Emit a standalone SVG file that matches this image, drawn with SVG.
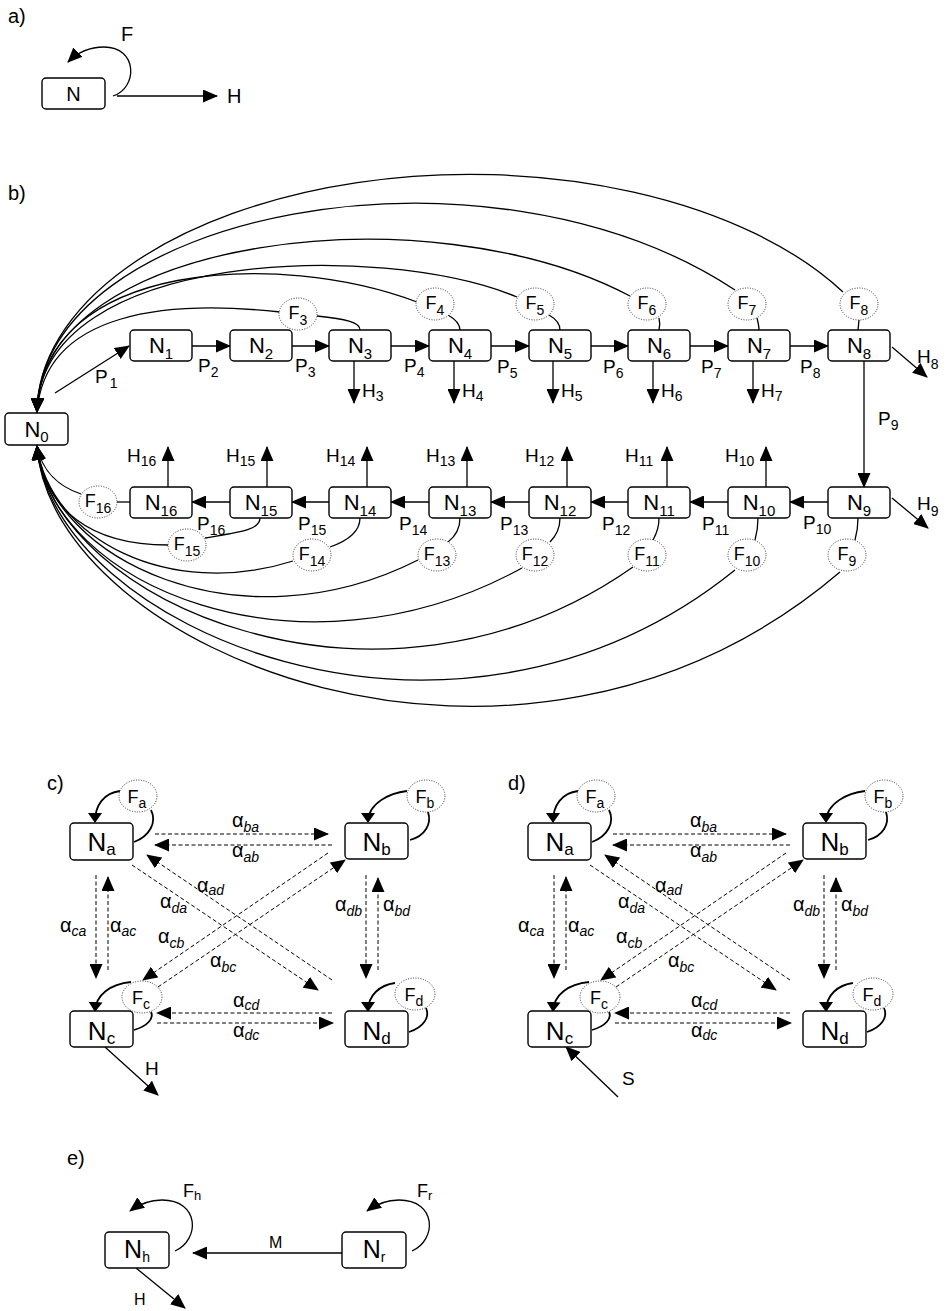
<svg xmlns="http://www.w3.org/2000/svg" width="947" height="1311" viewBox="0 0 947 1311">
<defs>
<style>
text{font-family:"Liberation Sans",Arial,Helvetica,sans-serif;fill:#000}
.bx{fill:#fff;stroke:#000;stroke-width:1.4}
.fc{fill:#fff;stroke:#333;stroke-width:1;stroke-dasharray:1 1.5}
.ln{fill:none;stroke:#000;stroke-width:1.3}
.ar{marker-end:url(#ah)}
.dl{fill:none;stroke:#000;stroke-width:1;stroke-dasharray:4 2.5;marker-end:url(#ah)}
.lp{fill:none;stroke:#000;stroke-width:1.8}
.la{marker-end:url(#as)}
.t20{font-size:20px}
.t19{font-size:19px}
.nb{font-size:22px}
.fb{font-size:18px}
.nc{font-size:26px}
.al{font-size:20px}
.s13{font-size:13px}
.s14{font-size:14px}
.s15{font-size:15px}
.s17{font-size:17px}
.it{font-style:italic;font-size:14px}
</style>
<marker id="ah" viewBox="0 0 15 13" refX="14" refY="6.5" markerWidth="15" markerHeight="13" orient="auto" markerUnits="userSpaceOnUse"><path d="M0,0 L15,6.5 L0,13 z" fill="#000"/></marker>
<marker id="as" viewBox="0 0 10 14" refX="9" refY="7" markerWidth="10" markerHeight="14" orient="auto" markerUnits="userSpaceOnUse"><path d="M0,0 L10,7 L0,14 z" fill="#000"/></marker>
</defs>
<rect width="947" height="1311" fill="#fff"/>

<!-- ===== a) ===== -->
<text x="8" y="23" class="t20">a)</text>
<g id="a-connectors">
<path class="ln ar" d="M113 96 C138 88 138 47 104 47 C88 47 76 54 68 62"/>
<path class="ln ar" d="M117 96 L217 96"/>
<text x="121" y="41" class="t20">F</text>
<text x="227" y="103" class="t20">H</text>
</g>
<g id="a-N"><rect class="bx" x="42" y="78" width="63" height="31" rx="4"/><text x="73.5" y="101" class="t20" text-anchor="middle">N</text></g>

<!-- ===== b) ===== -->
<text x="8" y="200" class="t20">b)</text>
<g id="b-connectors">
<!-- top return arcs -->
<path class="ln ar" d="M843 292 A433 239 0 0 0 37 412"/>
<path class="ln ar" d="M735 290 C485 125 40 212 37 412"/>
<path class="ln ar" d="M630 296 C430 190 40 235 37 412"/>
<path class="ln ar" d="M517 297 C380 240 40 250 37 412"/>
<path class="ln ar" d="M417 302 C280 250 42 260 37 412"/>
<path class="ln ar" d="M280 312 C170 300 45 310 37 412"/>
<!-- bottom return arcs -->
<path class="ln ar" d="M840 572 C520 845 50 650 37 446"/>
<path class="ln ar" d="M735 570 C450 800 50 625 37 446"/>
<path class="ln ar" d="M633 567 C380 745 50 600 37 446"/>
<path class="ln ar" d="M522 568 C300 690 50 585 37 446"/>
<path class="ln ar" d="M418 560 C240 650 50 560 37 446"/>
<path class="ln ar" d="M293 561 C170 600 50 540 37 446"/>
<path class="ln ar" d="M168 545 C90 545 45 510 37 446"/>
<path class="ln ar" d="M81 494 C60 487 42 472 37 446"/>
<!-- node to F links -->
<path class="ln" d="M317 316 C345 319 360 322 360 330"/>
<path class="ln" d="M448 315 C455 319 460 324 460 330"/>
<path class="ln" d="M549 315 C556 319 560 324 560 330"/>
<path class="ln" d="M659 318 C660 322 660 326 659 330"/>
<path class="ln" d="M757 318 C758 322 759 326 759 330"/>
<path class="ln" d="M859 320 L858 330"/>
<path class="ln" d="M855 540 C857 533 858 526 858 518"/>
<path class="ln" d="M755 540 C757 533 758 526 758 518"/>
<path class="ln" d="M653 540 C657 533 659 526 659 518"/>
<path class="ln" d="M550 542 C557 535 560 527 560 518"/>
<path class="ln" d="M448 542 C457 535 460 527 460 518"/>
<path class="ln" d="M330 547 C350 540 360 530 360 518"/>
<path class="ln" d="M205 538 C240 532 260 530 260 518"/>
<path class="ln" d="M117 502 L130 502"/>
<!-- flow arrows -->
<path class="ln ar" d="M55 393 L129 346"/>
<path class="ln ar" d="M192 346 L230 346"/>
<path class="ln ar" d="M292 346 L329 346"/>
<path class="ln ar" d="M391 346 L429 346"/>
<path class="ln ar" d="M491 346 L529 346"/>
<path class="ln ar" d="M591 346 L628 346"/>
<path class="ln ar" d="M690 346 L728 346"/>
<path class="ln ar" d="M790 346 L828 346"/>
<path class="ln ar" d="M864 361 L864 487"/>
<path class="ln ar" d="M828 502 L790 502"/>
<path class="ln ar" d="M728 502 L690 502"/>
<path class="ln ar" d="M628 502 L591 502"/>
<path class="ln ar" d="M529 502 L491 502"/>
<path class="ln ar" d="M429 502 L391 502"/>
<path class="ln ar" d="M329 502 L292 502"/>
<path class="ln ar" d="M230 502 L192 502"/>
<!-- harvest arrows -->
<path class="ln ar" d="M354 361 L354 403"/>
<path class="ln ar" d="M454 361 L454 403"/>
<path class="ln ar" d="M553 361 L553 403"/>
<path class="ln ar" d="M653 361 L653 403"/>
<path class="ln ar" d="M753 361 L753 403"/>
<path class="ln ar" d="M892 347 L927 377"/>
<path class="ln ar" d="M892 498 L928 528"/>
<path class="ln ar" d="M766 487 L766 447"/>
<path class="ln ar" d="M667 487 L667 447"/>
<path class="ln ar" d="M567 487 L567 447"/>
<path class="ln ar" d="M467 487 L467 447"/>
<path class="ln ar" d="M367 487 L367 447"/>
<path class="ln ar" d="M267 487 L267 447"/>
<path class="ln ar" d="M168 487 L168 447"/>
<!-- P labels -->
<g class="t19">
<text x="95" y="383">P<tspan class="s14" dx="2" dy="5">1</tspan></text>
<text x="198" y="372">P<tspan class="s14" dy="5">2</tspan></text>
<text x="295" y="372">P<tspan class="s14" dy="5">3</tspan></text>
<text x="404" y="372">P<tspan class="s14" dy="5">4</tspan></text>
<text x="497" y="373">P<tspan class="s14" dy="5">5</tspan></text>
<text x="603" y="373">P<tspan class="s14" dy="5">6</tspan></text>
<text x="701" y="373">P<tspan class="s14" dy="5">7</tspan></text>
<text x="800" y="373">P<tspan class="s14" dy="5">8</tspan></text>
<text x="878" y="425">P<tspan class="s14" dy="5">9</tspan></text>
<text x="803" y="529">P<tspan class="s14" dy="5">10</tspan></text>
<text x="702" y="530">P<tspan class="s14" dy="5">11</tspan></text>
<text x="602" y="530">P<tspan class="s14" dy="5">12</tspan></text>
<text x="500" y="530">P<tspan class="s14" dy="5">13</tspan></text>
<text x="399" y="530">P<tspan class="s14" dy="5">14</tspan></text>
<text x="298" y="530">P<tspan class="s14" dy="5">15</tspan></text>
<text x="197" y="530">P<tspan class="s14" dy="5">16</tspan></text>
<!-- H labels -->
<text x="362" y="397">H<tspan class="s14" dy="4">3</tspan></text>
<text x="462" y="397">H<tspan class="s14" dy="4">4</tspan></text>
<text x="561" y="397">H<tspan class="s14" dy="4">5</tspan></text>
<text x="661" y="397">H<tspan class="s14" dy="4">6</tspan></text>
<text x="761" y="397">H<tspan class="s14" dy="4">7</tspan></text>
<text x="917" y="363">H<tspan class="s14" dy="6">8</tspan></text>
<text x="917" y="510">H<tspan class="s14" dy="6">9</tspan></text>
<text x="725" y="462">H<tspan class="s14" dy="4">10</tspan></text>
<text x="625" y="462">H<tspan class="s14" dy="4">11</tspan></text>
<text x="525" y="462">H<tspan class="s14" dy="4">12</tspan></text>
<text x="426" y="462">H<tspan class="s14" dy="4">13</tspan></text>
<text x="326" y="462">H<tspan class="s14" dy="4">14</tspan></text>
<text x="226" y="462">H<tspan class="s14" dy="4">15</tspan></text>
<text x="127" y="462">H<tspan class="s14" dy="4">16</tspan></text>
</g>
</g>

<g id="b-N0"><rect class="bx" x="5" y="413" width="63" height="32" rx="4"/><text x="36.5" y="437" class="nb" text-anchor="middle">N<tspan class="s15" dy="5">0</tspan></text></g>
<g id="b-N1"><rect class="bx" x="130" y="330" width="62" height="31" rx="4"/><text x="161" y="353" class="nb" text-anchor="middle">N<tspan class="s15" dy="6">1</tspan></text></g>
<g id="b-N2"><rect class="bx" x="230" y="330" width="62" height="31" rx="4"/><text x="261" y="353" class="nb" text-anchor="middle">N<tspan class="s15" dy="6">2</tspan></text></g>
<g id="b-N3"><rect class="bx" x="329" y="330" width="62" height="31" rx="4"/><text x="360" y="353" class="nb" text-anchor="middle">N<tspan class="s15" dy="6">3</tspan></text></g>
<g id="b-N4"><rect class="bx" x="429" y="330" width="62" height="31" rx="4"/><text x="460" y="353" class="nb" text-anchor="middle">N<tspan class="s15" dy="6">4</tspan></text></g>
<g id="b-N5"><rect class="bx" x="529" y="330" width="62" height="31" rx="4"/><text x="560" y="353" class="nb" text-anchor="middle">N<tspan class="s15" dy="6">5</tspan></text></g>
<g id="b-N6"><rect class="bx" x="628" y="330" width="62" height="31" rx="4"/><text x="659" y="353" class="nb" text-anchor="middle">N<tspan class="s15" dy="6">6</tspan></text></g>
<g id="b-N7"><rect class="bx" x="728" y="330" width="62" height="31" rx="4"/><text x="759" y="353" class="nb" text-anchor="middle">N<tspan class="s15" dy="6">7</tspan></text></g>
<g id="b-N8"><rect class="bx" x="828" y="330" width="62" height="31" rx="4"/><text x="859" y="353" class="nb" text-anchor="middle">N<tspan class="s15" dy="6">8</tspan></text></g>
<g id="b-N9"><rect class="bx" x="828" y="487" width="62" height="31" rx="4"/><text x="859" y="510" class="nb" text-anchor="middle">N<tspan class="s15" dy="6">9</tspan></text></g>
<g id="b-N10"><rect class="bx" x="728" y="487" width="62" height="31" rx="4"/><text x="759" y="510" class="nb" text-anchor="middle">N<tspan class="s15" dy="6">10</tspan></text></g>
<g id="b-N11"><rect class="bx" x="628" y="487" width="62" height="31" rx="4"/><text x="659" y="510" class="nb" text-anchor="middle">N<tspan class="s15" dy="6">11</tspan></text></g>
<g id="b-N12"><rect class="bx" x="529" y="487" width="62" height="31" rx="4"/><text x="560" y="510" class="nb" text-anchor="middle">N<tspan class="s15" dy="6">12</tspan></text></g>
<g id="b-N13"><rect class="bx" x="429" y="487" width="62" height="31" rx="4"/><text x="460" y="510" class="nb" text-anchor="middle">N<tspan class="s15" dy="6">13</tspan></text></g>
<g id="b-N14"><rect class="bx" x="329" y="487" width="62" height="31" rx="4"/><text x="360" y="510" class="nb" text-anchor="middle">N<tspan class="s15" dy="6">14</tspan></text></g>
<g id="b-N15"><rect class="bx" x="230" y="487" width="62" height="31" rx="4"/><text x="261" y="510" class="nb" text-anchor="middle">N<tspan class="s15" dy="6">15</tspan></text></g>
<g id="b-N16"><rect class="bx" x="130" y="487" width="62" height="31" rx="4"/><text x="161" y="510" class="nb" text-anchor="middle">N<tspan class="s15" dy="6">16</tspan></text></g>

<g id="b-F3"><ellipse class="fc" cx="298" cy="314" rx="19" ry="16"/><text x="298" y="319" class="fb" text-anchor="middle">F<tspan class="s14" dy="6">3</tspan></text></g>
<g id="b-F4"><ellipse class="fc" cx="435" cy="304" rx="19" ry="16"/><text x="435" y="309" class="fb" text-anchor="middle">F<tspan class="s14" dy="6">4</tspan></text></g>
<g id="b-F5"><ellipse class="fc" cx="535" cy="304" rx="19" ry="16"/><text x="535" y="309" class="fb" text-anchor="middle">F<tspan class="s14" dy="6">5</tspan></text></g>
<g id="b-F6"><ellipse class="fc" cx="647" cy="304" rx="19" ry="16"/><text x="647" y="309" class="fb" text-anchor="middle">F<tspan class="s14" dy="6">6</tspan></text></g>
<g id="b-F7"><ellipse class="fc" cx="747" cy="304" rx="19" ry="16"/><text x="747" y="309" class="fb" text-anchor="middle">F<tspan class="s14" dy="6">7</tspan></text></g>
<g id="b-F8"><ellipse class="fc" cx="859" cy="304" rx="19" ry="16"/><text x="859" y="309" class="fb" text-anchor="middle">F<tspan class="s14" dy="6">8</tspan></text></g>
<g id="b-F9"><ellipse class="fc" cx="847" cy="555" rx="19" ry="16"/><text x="847" y="560" class="fb" text-anchor="middle">F<tspan class="s14" dy="6">9</tspan></text></g>
<g id="b-F10"><ellipse class="fc" cx="747" cy="555" rx="19" ry="16"/><text x="747" y="560" class="fb" text-anchor="middle">F<tspan class="s14" dy="6">10</tspan></text></g>
<g id="b-F11"><ellipse class="fc" cx="647" cy="555" rx="19" ry="16"/><text x="647" y="560" class="fb" text-anchor="middle">F<tspan class="s14" dy="6">11</tspan></text></g>
<g id="b-F12"><ellipse class="fc" cx="535" cy="555" rx="19" ry="16"/><text x="535" y="560" class="fb" text-anchor="middle">F<tspan class="s14" dy="6">12</tspan></text></g>
<g id="b-F13"><ellipse class="fc" cx="437" cy="555" rx="19" ry="16"/><text x="437" y="560" class="fb" text-anchor="middle">F<tspan class="s14" dy="6">13</tspan></text></g>
<g id="b-F14"><ellipse class="fc" cx="312" cy="555" rx="19" ry="16"/><text x="312" y="560" class="fb" text-anchor="middle">F<tspan class="s14" dy="6">14</tspan></text></g>
<g id="b-F15"><ellipse class="fc" cx="187" cy="545" rx="19" ry="16"/><text x="187" y="550" class="fb" text-anchor="middle">F<tspan class="s14" dy="6">15</tspan></text></g>
<g id="b-F16"><ellipse class="fc" cx="98" cy="502" rx="19" ry="16"/><text x="98" y="507" class="fb" text-anchor="middle">F<tspan class="s14" dy="6">16</tspan></text></g>

<!-- ===== c) ===== -->
<text x="47" y="790" class="t20">c)</text>
<g id="c-connectors">
<path class="lp la" d="M120 791 C104 793 95 805 95 822"/>
<path class="lp" d="M134 842 C150 836 157 822 151 810"/>
<path class="lp la" d="M407 791 C390 793 368 803 368 822"/>
<path class="lp" d="M410 840 C425 836 432 824 428 812"/>
<path class="lp la" d="M131 982 C110 984 96 995 95 1011"/>
<path class="lp" d="M134 1030 C148 1026 154 1018 151 1012"/>
<path class="lp la" d="M395 983 C380 985 368 995 368 1011"/>
<path class="lp" d="M409 1032 C424 1027 430 1017 426 1008"/>
<path class="dl" d="M155 834 L328 834"/>
<path class="dl" d="M332 845 L155 845"/>
<path class="dl" d="M96 875 L96 978"/>
<path class="dl" d="M108 970 L108 877"/>
<path class="dl" d="M366 875 L366 978"/>
<path class="dl" d="M378 970 L378 878"/>
<path class="dl" d="M132 865 L318 990"/>
<path class="dl" d="M332 980 L147 855"/>
<path class="dl" d="M328 853 L143 980"/>
<path class="dl" d="M158 987 L345 860"/>
<path class="dl" d="M332 1013 L157 1013"/>
<path class="dl" d="M157 1023 L333 1023"/>
<path class="ln ar" d="M105 1047 L158 1095"/>
<g class="al">
<text x="232" y="827">α<tspan class="it" dy="5">ba</tspan></text>
<text x="232" y="857">α<tspan class="it" dy="5">ab</tspan></text>
<text x="60" y="932">α<tspan class="it" dy="4">ca</tspan></text>
<text x="110" y="932">α<tspan class="it" dy="4">ac</tspan></text>
<text x="335" y="911">α<tspan class="it" dy="5">db</tspan></text>
<text x="383" y="911">α<tspan class="it" dy="5">bd</tspan></text>
<text x="160" y="908">α<tspan class="it" dy="5">da</tspan></text>
<text x="197" y="892">α<tspan class="it" dy="3">ad</tspan></text>
<text x="158" y="943">α<tspan class="it" dy="5">cb</tspan></text>
<text x="210" y="967">α<tspan class="it" dy="5">bc</tspan></text>
<text x="233" y="1007">α<tspan class="it" dy="3">cd</tspan></text>
<text x="233" y="1037">α<tspan class="it" dy="3">dc</tspan></text>
</g>
<text x="145" y="1075" class="t19">H</text>
</g>
<g id="c-Fa"><ellipse class="fc" cx="138" cy="796" rx="19" ry="16"/><text x="137" y="803" class="fb" text-anchor="middle">F<tspan class="s14" dy="5">a</tspan></text></g>
<g id="c-Fb"><ellipse class="fc" cx="426" cy="796" rx="19" ry="16"/><text x="425" y="803" class="fb" text-anchor="middle">F<tspan class="s14" dy="5">b</tspan></text></g>
<g id="c-Fc"><ellipse class="fc" cx="142" cy="997" rx="20" ry="16"/><text x="141" y="1004" class="fb" text-anchor="middle">F<tspan class="s14" dy="5">c</tspan></text></g>
<g id="c-Fd"><ellipse class="fc" cx="415" cy="994" rx="20" ry="16"/><text x="414" y="1001" class="fb" text-anchor="middle">F<tspan class="s14" dy="5">d</tspan></text></g>
<g id="c-Na"><rect class="bx" x="70" y="823" width="63" height="37" rx="4"/><text x="101.5" y="851" class="nc" text-anchor="middle">N<tspan class="s17" dy="4">a</tspan></text></g>
<g id="c-Nb"><rect class="bx" x="345" y="823" width="63" height="36" rx="4"/><text x="376.5" y="851" class="nc" text-anchor="middle">N<tspan class="s17" dy="4">b</tspan></text></g>
<g id="c-Nc"><rect class="bx" x="70" y="1011" width="63" height="36" rx="4"/><text x="101.5" y="1040" class="nc" text-anchor="middle">N<tspan class="s17" dy="4">c</tspan></text></g>
<g id="c-Nd"><rect class="bx" x="345" y="1011" width="63" height="36" rx="4"/><text x="376.5" y="1040" class="nc" text-anchor="middle">N<tspan class="s17" dy="4">d</tspan></text></g>

<!-- ===== d) ===== -->
<text x="508" y="790" class="t20">d)</text>
<g transform="translate(458,0)">
<g id="d-connectors">
<path class="lp la" d="M120 791 C104 793 95 805 95 822"/>
<path class="lp" d="M134 842 C150 836 157 822 151 810"/>
<path class="lp la" d="M407 791 C390 793 368 803 368 822"/>
<path class="lp" d="M410 840 C425 836 432 824 428 812"/>
<path class="lp la" d="M131 982 C110 984 96 995 95 1011"/>
<path class="lp" d="M134 1030 C148 1026 154 1018 151 1012"/>
<path class="lp la" d="M395 983 C380 985 368 995 368 1011"/>
<path class="lp" d="M409 1032 C424 1027 430 1017 426 1008"/>
<path class="dl" d="M155 834 L328 834"/>
<path class="dl" d="M332 845 L155 845"/>
<path class="dl" d="M96 875 L96 978"/>
<path class="dl" d="M108 970 L108 877"/>
<path class="dl" d="M366 875 L366 978"/>
<path class="dl" d="M378 970 L378 878"/>
<path class="dl" d="M132 865 L318 990"/>
<path class="dl" d="M332 980 L147 855"/>
<path class="dl" d="M328 853 L143 980"/>
<path class="dl" d="M158 987 L345 860"/>
<path class="dl" d="M332 1013 L157 1013"/>
<path class="dl" d="M157 1023 L333 1023"/>
<path class="ln ar" d="M160 1097 L108 1047"/>
<g class="al">
<text x="232" y="827">α<tspan class="it" dy="5">ba</tspan></text>
<text x="232" y="857">α<tspan class="it" dy="5">ab</tspan></text>
<text x="60" y="932">α<tspan class="it" dy="4">ca</tspan></text>
<text x="110" y="932">α<tspan class="it" dy="4">ac</tspan></text>
<text x="335" y="911">α<tspan class="it" dy="5">db</tspan></text>
<text x="383" y="911">α<tspan class="it" dy="5">bd</tspan></text>
<text x="160" y="908">α<tspan class="it" dy="5">da</tspan></text>
<text x="197" y="892">α<tspan class="it" dy="3">ad</tspan></text>
<text x="158" y="943">α<tspan class="it" dy="5">cb</tspan></text>
<text x="210" y="967">α<tspan class="it" dy="5">bc</tspan></text>
<text x="233" y="1007">α<tspan class="it" dy="3">cd</tspan></text>
<text x="233" y="1037">α<tspan class="it" dy="3">dc</tspan></text>
</g>
<text x="164" y="1085" class="t19">S</text>
</g>
<g id="d-Fa"><ellipse class="fc" cx="138" cy="796" rx="19" ry="16"/><text x="137" y="803" class="fb" text-anchor="middle">F<tspan class="s14" dy="5">a</tspan></text></g>
<g id="d-Fb"><ellipse class="fc" cx="426" cy="796" rx="19" ry="16"/><text x="425" y="803" class="fb" text-anchor="middle">F<tspan class="s14" dy="5">b</tspan></text></g>
<g id="d-Fc"><ellipse class="fc" cx="142" cy="997" rx="20" ry="16"/><text x="141" y="1004" class="fb" text-anchor="middle">F<tspan class="s14" dy="5">c</tspan></text></g>
<g id="d-Fd"><ellipse class="fc" cx="415" cy="994" rx="20" ry="16"/><text x="414" y="1001" class="fb" text-anchor="middle">F<tspan class="s14" dy="5">d</tspan></text></g>
<g id="d-Na"><rect class="bx" x="70" y="823" width="63" height="37" rx="4"/><text x="101.5" y="851" class="nc" text-anchor="middle">N<tspan class="s17" dy="4">a</tspan></text></g>
<g id="d-Nb"><rect class="bx" x="345" y="823" width="63" height="36" rx="4"/><text x="376.5" y="851" class="nc" text-anchor="middle">N<tspan class="s17" dy="4">b</tspan></text></g>
<g id="d-Nc"><rect class="bx" x="70" y="1011" width="63" height="36" rx="4"/><text x="101.5" y="1040" class="nc" text-anchor="middle">N<tspan class="s17" dy="4">c</tspan></text></g>
<g id="d-Nd"><rect class="bx" x="345" y="1011" width="63" height="36" rx="4"/><text x="376.5" y="1040" class="nc" text-anchor="middle">N<tspan class="s17" dy="4">d</tspan></text></g>
</g>

<!-- ===== e) ===== -->
<text x="67" y="1165" class="t20">e)</text>
<g id="e-connectors">
<path class="ln ar" d="M175 1251 C200 1240 200 1200 162 1200 C148 1200 138 1205 130 1211"/>
<path class="ln ar" d="M412 1251 C437 1240 437 1200 399 1200 C385 1200 375 1205 367 1211"/>
<path class="ln ar" d="M342 1253 L193 1253"/>
<path class="ln ar" d="M136 1268 L185 1308"/>
<text x="183" y="1197" class="fb">F<tspan class="s13" dy="3">h</tspan></text>
<text x="417" y="1197" class="fb">F<tspan class="s13" dy="3">r</tspan></text>
<text x="269" y="1248" style="font-size:16px">M</text>
<text x="134" y="1305" style="font-size:16px">H</text>
</g>
<g id="e-Nh"><rect class="bx" x="105" y="1232" width="64" height="36" rx="4"/><text x="137" y="1258" style="font-size:25px" text-anchor="middle">N<tspan class="s14" dy="4">h</tspan></text></g>
<g id="e-Nr"><rect class="bx" x="342" y="1232" width="64" height="36" rx="4"/><text x="374" y="1258" style="font-size:25px" text-anchor="middle">N<tspan class="s14" dy="4">r</tspan></text></g>
</svg>
